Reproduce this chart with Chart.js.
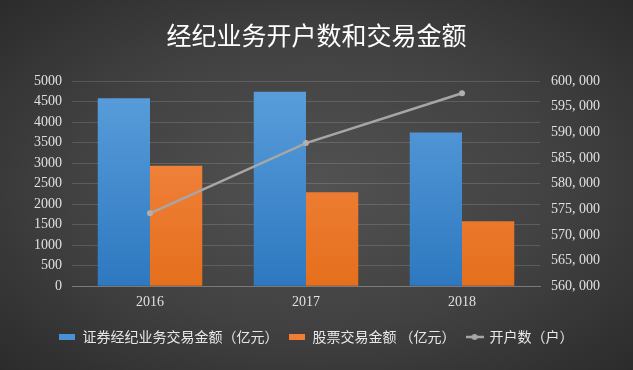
<!DOCTYPE html>
<html>
<head>
<meta charset="utf-8">
<script src="https://cdn.jsdelivr.net/npm/chart.js@4"></script>
<style>
  html, body { margin: 0; padding: 0; }
  body {
    width: 633px; height: 370px; overflow: hidden;
    background: radial-gradient(ellipse at 50% 50%, #525252 0%, #414141 55%, #2b2b2b 100%);
  }
  #wrap { width: 633px; height: 370px; }
</style>
</head>
<body>
<div id="wrap"><canvas id="chart"></canvas></div>
<script>
const years = ['2016', '2017', '2018'];
const brokerAmount = [4580, 4740, 3745];   // 证券经纪业务交易金额（亿元）
const stockAmount = [2935, 2290, 1580];    // 股票交易金额（亿元）
const accounts = [574200, 587900, 597600]; // 开户数（户）

const tickFont = { family: 'Liberation Serif', size: 14 };
const cjk = 'Noto Sans CJK SC';

function barGradient(top, bottom) {
  return ctx => {
    const area = ctx.chart.chartArea;
    if (!area) return bottom;
    const g = ctx.chart.ctx.createLinearGradient(0, area.top, 0, area.bottom);
    g.addColorStop(0, top);
    g.addColorStop(1, bottom);
    return g;
  };
}

// little legend symbols
function swatch(color) {
  const c = document.createElement('canvas');
  c.width = 16; c.height = 6;
  const x = c.getContext('2d');
  x.fillStyle = color;
  x.fillRect(0, 0, 16, 6);
  return c;
}
function lineSwatch(color) {
  const c = document.createElement('canvas');
  c.width = 18; c.height = 8;
  const x = c.getContext('2d');
  x.strokeStyle = color;
  x.lineWidth = 2.5;
  x.beginPath(); x.moveTo(0, 4); x.lineTo(18, 4); x.stroke();
  x.fillStyle = color;
  x.beginPath(); x.arc(9, 4, 3, 0, Math.PI * 2); x.fill();
  return c;
}
const legendIcons = [swatch('#4a90d4'), swatch('#f07c36'), lineSwatch('#a6a6a6')];

new Chart(document.getElementById('chart'), {
  type: 'bar',
  data: {
    labels: years,
    datasets: [
      {
        label: '证券经纪业务交易金额（亿元）',
        data: brokerAmount,
        yAxisID: 'y',
        backgroundColor: barGradient('#5b9fdc', '#2d78c0'),
        order: 1
      },
      {
        label: '股票交易金额 （亿元）',
        data: stockAmount,
        yAxisID: 'y',
        backgroundColor: barGradient('#f68c4c', '#e56f1c'),
        order: 2
      },
      {
        type: 'line',
        label: '开户数（户）',
        data: accounts,
        yAxisID: 'y1',
        borderColor: '#a6a6a6',
        backgroundColor: '#a6a6a6',
        borderWidth: 2.5,
        pointRadius: 3,
        pointBackgroundColor: '#b0b0b0',
        pointBorderWidth: 0,
        order: 0
      }
    ]
  },
  options: {
    responsive: true,
    maintainAspectRatio: false,
    animation: false,
    categoryPercentage: 0.67,
    barPercentage: 1.0,
    layout: { padding: { left: 10, right: 10, top: 0, bottom: 16 } },
    plugins: {
      title: {
        display: true,
        text: '经纪业务开户数和交易金额',
        color: '#ffffff',
        font: { family: cjk, size: 25, weight: 'normal' },
        padding: { top: 20, bottom: 31 }
      },
      legend: {
        position: 'bottom',
        labels: {
          color: '#e8e8e8',
          font: { family: cjk, size: 14 },
          usePointStyle: true,
          pointStyleWidth: 16,
          boxHeight: 6,
          padding: 11,
          sort: (a, b) => a.datasetIndex - b.datasetIndex,
          generateLabels: chart => {
            const items = Chart.defaults.plugins.legend.labels.generateLabels(chart);
            items.forEach(it => { it.pointStyle = legendIcons[it.datasetIndex]; });
            return items;
          }
        }
      },
      tooltip: { enabled: false }
    },
    scales: {
      x: {
        grid: { display: false, drawTicks: false },
        border: { color: '#7a7a7a' },
        ticks: { color: '#e0e0e0', font: tickFont, padding: 8 }
      },
      y: {
        position: 'left',
        min: 0, max: 5000,
        afterFit: s => { s.width = 62; },
        grid: { color: 'rgba(255,255,255,0.14)', drawTicks: false },
        border: { display: false },
        ticks: {
          stepSize: 500, color: '#e0e0e0', font: tickFont, padding: 10,
          callback: v => String(v)
        }
      },
      y1: {
        position: 'right',
        min: 560000, max: 600000,
        afterFit: s => { s.width = 83; },
        grid: { display: false, drawTicks: false },
        border: { display: false },
        ticks: {
          stepSize: 5000, color: '#e0e0e0', font: tickFont, padding: 11,
          callback: v => v.toLocaleString('en-US').replace(',', ', ')
        }
      }
    }
  }
});
</script>
</body>
</html>
